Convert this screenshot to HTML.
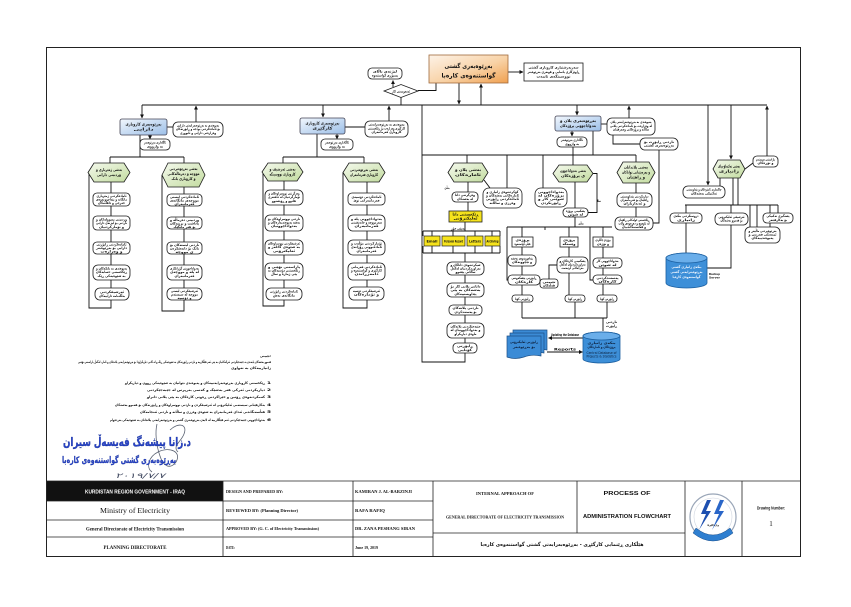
<!DOCTYPE html>
<html><head><meta charset="utf-8">
<style>
html,body{margin:0;padding:0;background:#fff;}
svg{display:block}
.n{fill:#fff;stroke:#1a1a1a;stroke-width:.8}
.r{fill:#fff;stroke:#1a1a1a;stroke-width:.8}
.l{stroke:#111;stroke-width:.9;fill:none}
.k{font-family:"DejaVu Sans",sans-serif;font-weight:bold;font-size:3.5px;fill:#111;text-anchor:middle}
.h{font-family:"DejaVu Sans",sans-serif;font-weight:bold;font-size:3.9px;fill:#111;text-anchor:middle}
.s{font-family:"Liberation Serif",serif;font-weight:bold;fill:#111}
.a{font-family:"Liberation Sans",sans-serif;fill:#111}
</style></head><body>
<svg width="851" height="607" viewBox="0 0 851 607" xmlns="http://www.w3.org/2000/svg">
<defs>
<linearGradient id="go" x1="0" y1="0" x2="1" y2="1"><stop offset="0" stop-color="#fdf3e8"/><stop offset=".55" stop-color="#f8d2a6"/><stop offset="1" stop-color="#f0a050"/></linearGradient>
<linearGradient id="gb" x1="0" y1="0" x2="1" y2="1"><stop offset="0" stop-color="#f2f7fd"/><stop offset="1" stop-color="#9cbfe8"/></linearGradient>
<linearGradient id="gg" x1="0" y1="0" x2="1" y2="1"><stop offset="0" stop-color="#f4f9ec"/><stop offset="1" stop-color="#c3dca0"/></linearGradient>
<marker id="m" markerWidth="4" markerHeight="4" refX="3.6" refY="2" orient="auto" markerUnits="userSpaceOnUse"><path d="M0,0 L4,2 L0,4z" fill="#111"/></marker>
</defs>
<rect width="851" height="607" fill="#fff"/>
<rect x="46.5" y="47.5" width="754" height="509" fill="none" stroke="#222" stroke-width="1"/>

<!-- connectors -->
<g class="l">
<path d="M393,87 V80.5" marker-end="url(#m)"/>
<path d="M418,90.5 H436 V83"/>
<path d="M401,97.5 V105"/>
<path d="M459,83 V104" marker-end="url(#m)"/>
<path d="M481,105 V84" marker-end="url(#m)"/>
<path d="M508,72 H523" marker-end="url(#m)"/>
<path d="M142,105 H767"/>
<path d="M142,105 V118" marker-end="url(#m)"/>
<path d="M167,127 H173"/>
<path d="M196,122 V106" marker-end="url(#m)"/>
<path d="M150,135 V139" marker-end="url(#m)"/>
<path d="M140,135 V157 M110,157 H184 M110,157 V163 M184,157 V163"/>
<path d="M111,182 V193 M111,206 V216 M111,230 V242 M111,254 V265 M111,280 V288"/>
<path d="M89,172.5 V308 H111 V300"/>
<path d="M184,187 V194 M184,206 V217 M184,229 V242 M184,254 V265 M184,280 V288"/>
<path d="M162,175 V311 H184 V300"/>
<path d="M323,105 V117" marker-end="url(#m)"/>
<path d="M345,127 H365"/>
<path d="M389,121 V106" marker-end="url(#m)"/>
<path d="M337,134 V139" marker-end="url(#m)"/>
<path d="M317,134 V157 M283,157 H364 M283,157 V163 M364,157 V163"/>
<path d="M284,181 V190 M284,205 V215 M284,231 V240 M284,255 V263 M284,280 V288"/>
<path d="M263,172 V306 H284 V300"/>
<path d="M367,182 V193 M367,205 V215 M367,231 V240 M367,255 V263 M367,280 V287"/>
<path d="M343,172.5 V308 H367 V300"/>
<path d="M422,105 V362 H465 V353"/>
<path d="M577,105 V115" marker-end="url(#m)"/>
<path d="M601,124 H607"/>
<path d="M629,118 V106" marker-end="url(#m)"/>
<path d="M572,131 V136" marker-end="url(#m)"/>
<path d="M593,131 V155 M422,155 H636 M467,155 V163 M507,155 V188 M543,155 V188 M573,147 V165 M636,155 V162"/>
<path d="M613,135 V144 H640"/>
<path d="M659,150 V223 H653"/>
<path d="M484,180 L490,188"/>
<path d="M468,182 V192 M468,202 V211 M465,222 V231"/>
<path d="M423,231 H500 M423,231 V236 M432,231 V236 M453,231 V236 M475,231 V236 M492,231 V236 M500,231 V236"/>
<path d="M423,246 V253 M432,246 V253 M453,246 V253 M475,246 V253 M492,246 V253 M500,246 V253 M423,253 H500 M465,253 V262"/>
<path d="M465,275 V283 M465,297 V305 M465,315 V323 M465,338 V343"/>
<path d="M575,182 V208 M593,173.5 H597 V212.5 H588 M575,217 V227 M507,227 H612 M522,227 V237 M569,227 V237 M603,227 V237"/>
<path d="M522,247 V255 M522,266 V275 M522,285 V295 M569,247 V257 M569,273 V295 M603,247 V258 M603,268 V275 M603,284 V295"/>
<path d="M557,265 H549 V279 M507,227 V280 H508 M590,227 V280 H593 M545,227 V230"/>
<path d="M522,302 V318 M575,302 V318 M607,302 V318 M522,318 H607 M603,318 V331"/>
<path d="M583,338 H548.5" marker-end="url(#m)"/>
<path d="M547,352 H582.5" marker-end="url(#m)"/>
<path d="M636,183 V193 M636,207 V217"/>
<path d="M731,105 V159" marker-end="url(#m)"/>
<path d="M767,156 V106" marker-end="url(#m)"/>
<path d="M745,169 L753,163"/>
<path d="M708,105 V185" marker-end="url(#m)"/>
<path d="M720,178 V186 M733,178 V205 M738,178 V205"/>
<path d="M685,205 H778 M686,205 V213 M731,205 V213 M750,205 V227 M757,205 V227 M770,205 V227 M778,205 V213"/>
<path d="M686,223 V253"/>
<path d="M731,225 V268 H707"/>
</g>

<!-- top -->
<rect x="429" y="55" width="79" height="28" fill="url(#go)" stroke="#a06a3c" stroke-width=".8"/>
<text x="468.5" y="68" class="h" style="font-size:6px" textLength="48" lengthAdjust="spacingAndGlyphs">بەڕێوەبەری گشتی</text>
<text x="468.5" y="77.5" class="h" style="font-size:6px" textLength="54" lengthAdjust="spacingAndGlyphs">گواستنەوەی کارەبا</text>
<rect x="524" y="63" width="59" height="18" class="r"/>
<text x="553.5" y="68.5" class="k" textLength="50" lengthAdjust="spacingAndGlyphs">سەرپەرشتیاری کاروباری گشتی</text>
<text x="553.5" y="73" class="k" textLength="52" lengthAdjust="spacingAndGlyphs">ڕاوێژکاری یاسایی و هونەری بەڕێوەبەر</text>
<text x="553.5" y="77.5" class="k" textLength="34" lengthAdjust="spacingAndGlyphs">نووسینگەی تایبەت</text>
<rect x="368" y="68" width="34" height="11" rx="4" class="n"/>
<text x="385" y="72.6" class="k" textLength="24" lengthAdjust="spacingAndGlyphs">لیژنەی باڵای</text>
<text x="385" y="76.6" class="k" textLength="26" lengthAdjust="spacingAndGlyphs">پسپۆڕی گواستنەوە</text>
<polygon points="384,91 401,84.5 418,91 401,97.5" fill="#fff" stroke="#1a1a1a" stroke-width=".8"/>
<text x="401" y="92.3" class="k" textLength="18" lengthAdjust="spacingAndGlyphs">ئەنجومەنی کار</text>

<!-- Branch A -->
<rect x="120" y="119" width="47" height="16" rx="2" fill="url(#gb)" stroke="#445" stroke-width=".8"/>
<text x="143.5" y="125.5" class="h" textLength="36" lengthAdjust="spacingAndGlyphs">بەڕێوەبەری کاروباری</text>
<text x="143.5" y="130.5" class="h" textLength="20" lengthAdjust="spacingAndGlyphs">دارایی</text>
<rect x="173" y="122" width="50" height="15" rx="5" class="n"/>
<text x="198" y="126.5" class="k" textLength="42" lengthAdjust="spacingAndGlyphs">پەیوەندی بە بەڕێوەبەرایەتی دارایی</text>
<text x="198" y="130.2" class="k" textLength="44" lengthAdjust="spacingAndGlyphs">بۆ ئامادەکردنی بودجە و ڕاپۆرتەکان</text>
<text x="198" y="134" class="k" textLength="36" lengthAdjust="spacingAndGlyphs">وەزارەتی دارایی و ئابووری</text>
<rect x="140" y="139" width="30" height="11" rx="4" class="n"/>
<text x="155" y="143.5" class="k" textLength="22" lengthAdjust="spacingAndGlyphs">ئاگاداری بەڕێوەبەر</text>
<text x="155" y="147.3" class="k" textLength="16" lengthAdjust="spacingAndGlyphs">بە واژووی</text>
<polygon points="88,172.5 94,163 124,163 130,172.5 124,182 94,182" fill="url(#gg)" stroke="#1a1a1a" stroke-width=".8"/>
<text x="109" y="171" class="h" textLength="26" lengthAdjust="spacingAndGlyphs">بەشی ژمێریاری و</text>
<text x="109" y="176" class="h" textLength="24" lengthAdjust="spacingAndGlyphs">وردبینی دارایی</text>
<polygon points="162,175 168,163 199,163 205,175 199,187 168,187" fill="url(#gg)" stroke="#1a1a1a" stroke-width=".8"/>
<text x="183.5" y="170" class="h" textLength="28" lengthAdjust="spacingAndGlyphs">بەشی بەڕێوەبردنی</text>
<text x="183.5" y="175" class="h" textLength="32" lengthAdjust="spacingAndGlyphs">مووچە و دەرماڵەکانی</text>
<text x="183.5" y="180" class="h" textLength="24" lengthAdjust="spacingAndGlyphs">و کاروباری بانک</text>
<rect x="93" y="193" width="37" height="13" rx="4" class="n"/>
<text x="111.5" y="197.2" class="k" textLength="30" lengthAdjust="spacingAndGlyphs">ئامادەکردنی ژمێریاری</text>
<text x="111.5" y="200.6" class="k" textLength="31" lengthAdjust="spacingAndGlyphs">مانگانە و پێداچوونەوەی</text>
<text x="111.5" y="204" class="k" textLength="27" lengthAdjust="spacingAndGlyphs">خەرجی و داهاتەکان</text>
<rect x="93" y="216" width="37" height="14" rx="4" class="n"/>
<text x="111.5" y="220.6" class="k" textLength="31" lengthAdjust="spacingAndGlyphs">وردبینی پسوولەکان و</text>
<text x="111.5" y="224.2" class="k" textLength="31" lengthAdjust="spacingAndGlyphs">ناردنی بۆ لیژنەی دارایی</text>
<text x="111.5" y="227.8" class="k" textLength="25" lengthAdjust="spacingAndGlyphs">و تۆمارکردنیان</text>
<rect x="93" y="242" width="37" height="12" rx="4" class="n"/>
<text x="111.5" y="245.6" class="k" textLength="30" lengthAdjust="spacingAndGlyphs">ئامادەکردنی ڕاپۆرتی</text>
<text x="111.5" y="249" class="k" textLength="31" lengthAdjust="spacingAndGlyphs">دارایی بۆ بەڕێوەبەر</text>
<text x="111.5" y="252.4" class="k" textLength="22" lengthAdjust="spacingAndGlyphs">و وەزارەت</text>
<rect x="93" y="265" width="37" height="15" rx="5" class="n"/>
<text x="111.5" y="269.6" class="k" textLength="31" lengthAdjust="spacingAndGlyphs">پەیوەندی بە بانکەکان و</text>
<text x="111.5" y="273.2" class="k" textLength="31" lengthAdjust="spacingAndGlyphs">ڕێکخستنی حسابەکان</text>
<text x="111.5" y="276.8" class="k" textLength="28" lengthAdjust="spacingAndGlyphs">بە شێوەیەکی ڕێک</text>
<rect x="95" y="288" width="34" height="12" rx="5" class="n"/>
<text x="112" y="293" class="k" textLength="24" lengthAdjust="spacingAndGlyphs">ئەرشیفکردنی</text>
<text x="112" y="297" class="k" textLength="26" lengthAdjust="spacingAndGlyphs">بەڵگەنامە داراییەکان</text>
<rect x="167" y="194" width="35" height="12" rx="4" class="n"/>
<text x="184.5" y="198" class="k" textLength="29" lengthAdjust="spacingAndGlyphs">ئامادەکردنی لیستی</text>
<text x="184.5" y="201.4" class="k" textLength="29" lengthAdjust="spacingAndGlyphs">مووچەی مانگانەی</text>
<text x="184.5" y="204.8" class="k" textLength="20" lengthAdjust="spacingAndGlyphs">فەرمانبەران</text>
<rect x="167" y="217" width="35" height="12" rx="4" class="n"/>
<text x="184.5" y="221" class="k" textLength="29" lengthAdjust="spacingAndGlyphs">وردبینی دەرماڵە و</text>
<text x="184.5" y="224.4" class="k" textLength="29" lengthAdjust="spacingAndGlyphs">پاداشت و بڕینەکان</text>
<text x="184.5" y="227.8" class="k" textLength="22" lengthAdjust="spacingAndGlyphs">بۆ هەر مانگێک</text>
<rect x="167" y="242" width="35" height="12" rx="4" class="n"/>
<text x="184.5" y="246" class="k" textLength="29" lengthAdjust="spacingAndGlyphs">ناردنی لیستەکان بۆ</text>
<text x="184.5" y="249.4" class="k" textLength="29" lengthAdjust="spacingAndGlyphs">بانک بۆ دابەشکردن</text>
<text x="184.5" y="252.8" class="k" textLength="18" lengthAdjust="spacingAndGlyphs">ی مووچە</text>
<rect x="167" y="265" width="35" height="15" rx="5" class="n"/>
<text x="184.5" y="269.6" class="k" textLength="29" lengthAdjust="spacingAndGlyphs">بەدواداچوونی گۆڕانکاری</text>
<text x="184.5" y="273.2" class="k" textLength="29" lengthAdjust="spacingAndGlyphs">لە پلە و مووچەی</text>
<text x="184.5" y="276.8" class="k" textLength="20" lengthAdjust="spacingAndGlyphs">فەرمانبەران</text>
<rect x="167" y="288" width="35" height="12" rx="5" class="n"/>
<text x="184.5" y="292" class="k" textLength="27" lengthAdjust="spacingAndGlyphs">ئەرشیفکردنی لیستی</text>
<text x="184.5" y="295.4" class="k" textLength="27" lengthAdjust="spacingAndGlyphs">مووچە لە سیستەم</text>
<text x="184.5" y="298.8" class="k" textLength="14" lengthAdjust="spacingAndGlyphs">و دۆسیە</text>

<!-- Branch B -->
<rect x="300" y="118" width="45" height="16" rx="2" fill="url(#gb)" stroke="#445" stroke-width=".8"/>
<text x="322.5" y="124.5" class="h" textLength="34" lengthAdjust="spacingAndGlyphs">بەڕێوەبەری کاروباری</text>
<text x="322.5" y="129.5" class="h" textLength="20" lengthAdjust="spacingAndGlyphs">کارگێڕی</text>
<rect x="365" y="121" width="43" height="16" rx="5" class="n"/>
<text x="386.5" y="125.6" class="k" textLength="36" lengthAdjust="spacingAndGlyphs">پەیوەندی بە بەڕێوەبەرایەتی</text>
<text x="386.5" y="129.4" class="k" textLength="37" lengthAdjust="spacingAndGlyphs">کارگێڕی وەزارەت بۆ ڕێکخستنی</text>
<text x="386.5" y="133.2" class="k" textLength="30" lengthAdjust="spacingAndGlyphs">کاروباری فەرمانبەران</text>
<rect x="321" y="139" width="32" height="11" rx="4" class="n"/>
<text x="337" y="143.5" class="k" textLength="24" lengthAdjust="spacingAndGlyphs">ئاگاداری بەڕێوەبەر</text>
<text x="337" y="147.3" class="k" textLength="16" lengthAdjust="spacingAndGlyphs">بە واژووی</text>
<polygon points="262,172 268,163 297,163 303,172 297,181 268,181" fill="url(#gg)" stroke="#1a1a1a" stroke-width=".8"/>
<text x="282.5" y="170.5" class="h" textLength="26" lengthAdjust="spacingAndGlyphs">بەشی ئەرشیف و</text>
<text x="282.5" y="175.5" class="h" textLength="26" lengthAdjust="spacingAndGlyphs">کاروباری نووسینگە</text>
<polygon points="343,172.5 349,163 379,163 385,172.5 379,182 349,182" fill="url(#gg)" stroke="#1a1a1a" stroke-width=".8"/>
<text x="364" y="171" class="h" textLength="28" lengthAdjust="spacingAndGlyphs">بەشی بەڕێوەبردنی</text>
<text x="364" y="176" class="h" textLength="28" lengthAdjust="spacingAndGlyphs">کاروباری فەرمانبەران</text>
<rect x="265" y="190" width="38" height="15" rx="5" class="n"/>
<text x="284" y="194.6" class="k" textLength="31" lengthAdjust="spacingAndGlyphs">وەرگرتنی نووسراوەکان و</text>
<text x="284" y="198.2" class="k" textLength="32" lengthAdjust="spacingAndGlyphs">تۆمارکردنیان لە دەفتەری</text>
<text x="284" y="201.8" class="k" textLength="24" lengthAdjust="spacingAndGlyphs">هاتوو و ڕۆیشتوو</text>
<rect x="265" y="215" width="38" height="16" rx="5" class="n"/>
<text x="284" y="220" class="k" textLength="32" lengthAdjust="spacingAndGlyphs">ناردنی نووسراوەکان بۆ</text>
<text x="284" y="223.6" class="k" textLength="32" lengthAdjust="spacingAndGlyphs">بەشە پەیوەندیدارەکان و</text>
<text x="284" y="227.2" class="k" textLength="26" lengthAdjust="spacingAndGlyphs">بەدواداچوونیان</text>
<rect x="265" y="240" width="38" height="15" rx="5" class="n"/>
<text x="284" y="244.6" class="k" textLength="32" lengthAdjust="spacingAndGlyphs">ئەرشیفکردنی نووسراوەکان</text>
<text x="284" y="248.2" class="k" textLength="32" lengthAdjust="spacingAndGlyphs">بە شێوەی کاغەز و</text>
<text x="284" y="251.8" class="k" textLength="22" lengthAdjust="spacingAndGlyphs">ئەلیکترۆنی</text>
<rect x="265" y="263" width="38" height="17" rx="5" class="n"/>
<text x="284" y="268" class="k" textLength="32" lengthAdjust="spacingAndGlyphs">پاراستنی نهێنی و</text>
<text x="284" y="271.6" class="k" textLength="32" lengthAdjust="spacingAndGlyphs">ڕێکخستنی دۆسیەکان بە</text>
<text x="284" y="275.2" class="k" textLength="26" lengthAdjust="spacingAndGlyphs">پێی ژمارە و ساڵ</text>
<rect x="266" y="288" width="36" height="12" rx="5" class="n"/>
<text x="284" y="292.6" class="k" textLength="28" lengthAdjust="spacingAndGlyphs">ئامادەکردنی ڕاپۆرتی</text>
<text x="284" y="296.4" class="k" textLength="22" lengthAdjust="spacingAndGlyphs">مانگانەی بەش</text>
<rect x="348" y="193" width="37" height="12" rx="4" class="n"/>
<text x="366.5" y="197.8" class="k" textLength="30" lengthAdjust="spacingAndGlyphs">ئامادەکردنی دۆسیەی</text>
<text x="366.5" y="201.6" class="k" textLength="26" lengthAdjust="spacingAndGlyphs">فەرمانبەرانی نوێ</text>
<rect x="348" y="215" width="37" height="16" rx="5" class="n"/>
<text x="366.5" y="220" class="k" textLength="31" lengthAdjust="spacingAndGlyphs">بەدواداچوونی پلە و</text>
<text x="366.5" y="223.6" class="k" textLength="31" lengthAdjust="spacingAndGlyphs">سەرمووچە و خانەنشینی</text>
<text x="366.5" y="227.2" class="k" textLength="24" lengthAdjust="spacingAndGlyphs">فەرمانبەران</text>
<rect x="348" y="240" width="37" height="15" rx="5" class="n"/>
<text x="366.5" y="244.6" class="k" textLength="31" lengthAdjust="spacingAndGlyphs">تۆمارکردنی مۆڵەت و</text>
<text x="366.5" y="248.2" class="k" textLength="31" lengthAdjust="spacingAndGlyphs">ئامادەبوونی ڕۆژانەی</text>
<text x="366.5" y="251.8" class="k" textLength="20" lengthAdjust="spacingAndGlyphs">فەرمانبەران</text>
<rect x="348" y="263" width="37" height="17" rx="5" class="n"/>
<text x="366.5" y="268" class="k" textLength="31" lengthAdjust="spacingAndGlyphs">ئامادەکردنی فەرمانی</text>
<text x="366.5" y="271.6" class="k" textLength="31" lengthAdjust="spacingAndGlyphs">کارگێڕی و گواستنەوە و</text>
<text x="366.5" y="275.2" class="k" textLength="24" lengthAdjust="spacingAndGlyphs">دامەزراندن</text>
<rect x="349" y="287" width="35" height="13" rx="5" class="n"/>
<text x="366.5" y="291.8" class="k" textLength="27" lengthAdjust="spacingAndGlyphs">ئەرشیفکردنی دۆسیە</text>
<text x="366.5" y="295.6" class="k" textLength="25" lengthAdjust="spacingAndGlyphs">و تۆمارەکان</text>

<!-- Middle director -->
<rect x="555" y="116" width="46" height="15" rx="2" fill="url(#gb)" stroke="#445" stroke-width=".8"/>
<text x="578" y="122" class="h" textLength="36" lengthAdjust="spacingAndGlyphs">بەڕێوەبەری پلان و</text>
<text x="578" y="127" class="h" textLength="36" lengthAdjust="spacingAndGlyphs">بەدواداچوونی پرۆژەکان</text>
<rect x="607" y="118" width="48" height="17" rx="5" class="n"/>
<text x="631" y="123" class="k" textLength="41" lengthAdjust="spacingAndGlyphs">پەیوەندی بە بەڕێوەبەرایەتی پلان</text>
<text x="631" y="126.8" class="k" textLength="42" lengthAdjust="spacingAndGlyphs">لە وەزارەت بۆ ئامادەکردنی پلانی</text>
<text x="631" y="130.6" class="k" textLength="36" lengthAdjust="spacingAndGlyphs">ساڵانە و پرۆژەکانی وەبەرهێنان</text>
<rect x="557" y="137" width="30" height="10" rx="4" class="n"/>
<text x="572" y="141.2" class="k" textLength="22" lengthAdjust="spacingAndGlyphs">ئاگاداری بەڕێوەبەر</text>
<text x="572" y="144.8" class="k" textLength="14" lengthAdjust="spacingAndGlyphs">بە واژووی</text>
<rect x="640" y="138" width="38" height="12" rx="5" class="n"/>
<text x="659" y="142.8" class="k" textLength="30" lengthAdjust="spacingAndGlyphs">ناردنی ڕاپۆرت بۆ</text>
<text x="659" y="146.6" class="k" textLength="30" lengthAdjust="spacingAndGlyphs">بەڕێوەبەری گشتی</text>

<polygon points="448,172.5 454,163 482,163 488,172.5 482,182 454,182" fill="url(#gg)" stroke="#1a1a1a" stroke-width=".8"/>
<text x="468" y="171" class="h" textLength="26" lengthAdjust="spacingAndGlyphs">بەشی پلان و</text>
<text x="468" y="176" class="h" textLength="26" lengthAdjust="spacingAndGlyphs">ئامارەکان</text>
<rect x="483" y="188" width="39" height="20" rx="6" class="n"/>
<text x="502.5" y="193" class="k" textLength="32" lengthAdjust="spacingAndGlyphs">کۆکردنەوەی زانیاری و</text>
<text x="502.5" y="196.6" class="k" textLength="33" lengthAdjust="spacingAndGlyphs">ئامارەکانی بەشەکان و</text>
<text x="502.5" y="200.2" class="k" textLength="33" lengthAdjust="spacingAndGlyphs">ئامادەکردنی ڕاپۆرتی</text>
<text x="502.5" y="203.8" class="k" textLength="26" lengthAdjust="spacingAndGlyphs">وەرزی و ساڵانە</text>
<rect x="452" y="192" width="26" height="10" rx="4" class="n"/>
<text x="465" y="196.2" class="k" textLength="20" lengthAdjust="spacingAndGlyphs">وەرگرتنی داتا</text>
<text x="465" y="199.8" class="k" textLength="16" lengthAdjust="spacingAndGlyphs">لە بەشەکان</text>
<text x="447" y="189" class="k" textLength="5" lengthAdjust="spacingAndGlyphs">بەڵێ</text>
<rect x="449" y="211" width="33" height="11" fill="#f6e31c" stroke="#222" stroke-width=".8"/>
<text x="465.5" y="215.7" class="h" textLength="26" lengthAdjust="spacingAndGlyphs">ڕێکخستنی داتا</text>
<text x="465.5" y="219.7" class="h" textLength="24" lengthAdjust="spacingAndGlyphs">ئەلیکترۆنی</text>
<text x="458" y="229.5" class="k" textLength="14" lengthAdjust="spacingAndGlyphs">بەپێی جۆر</text>
<rect x="424" y="236" width="16" height="10" fill="#f6e31c" stroke="#222" stroke-width=".7"/>
<text x="432" y="242.3" class="h" style="font-size:3.4px" textLength="11" lengthAdjust="spacingAndGlyphs">Email</text>
<rect x="442" y="236" width="23" height="10" fill="#f6e31c" stroke="#222" stroke-width=".7"/>
<text x="453.5" y="242.3" class="h" style="font-size:3.4px" textLength="19" lengthAdjust="spacingAndGlyphs">Personal Record</text>
<rect x="467" y="236" width="16" height="10" fill="#f6e31c" stroke="#222" stroke-width=".7"/>
<text x="475" y="242.3" class="h" style="font-size:3.4px" textLength="12" lengthAdjust="spacingAndGlyphs">Letters</text>
<rect x="485" y="236" width="15" height="10" fill="#f6e31c" stroke="#222" stroke-width=".7"/>
<text x="492.5" y="242.3" class="h" style="font-size:3.4px" textLength="12" lengthAdjust="spacingAndGlyphs">Archiving</text>
<rect x="447" y="262" width="37" height="13" rx="5" class="n"/>
<text x="465.5" y="266.2" class="k" textLength="30" lengthAdjust="spacingAndGlyphs">شیکردنەوەی داتاکان و</text>
<text x="465.5" y="269.6" class="k" textLength="30" lengthAdjust="spacingAndGlyphs">بەراوردکردنیان لەگەڵ</text>
<text x="465.5" y="273" class="k" textLength="20" lengthAdjust="spacingAndGlyphs">ساڵانی پێشوو</text>
<rect x="447" y="283" width="37" height="14" rx="5" class="n"/>
<text x="465.5" y="287.6" class="k" textLength="30" lengthAdjust="spacingAndGlyphs">دانانی پلانی کار بۆ</text>
<text x="465.5" y="291.2" class="k" textLength="30" lengthAdjust="spacingAndGlyphs">بەشەکان بە پێی</text>
<text x="465.5" y="294.8" class="k" textLength="22" lengthAdjust="spacingAndGlyphs">پێداویستییەکان</text>
<rect x="449" y="305" width="33" height="10" rx="4" class="n"/>
<text x="465.5" y="309.2" class="k" textLength="26" lengthAdjust="spacingAndGlyphs">ناردنی پلانەکان</text>
<text x="465.5" y="312.8" class="k" textLength="22" lengthAdjust="spacingAndGlyphs">بۆ پەسەندکردن</text>
<rect x="447" y="323" width="37" height="15" rx="5" class="n"/>
<text x="465.5" y="327.6" class="k" textLength="30" lengthAdjust="spacingAndGlyphs">جێبەجێکردنی پلانەکان</text>
<text x="465.5" y="331.2" class="k" textLength="30" lengthAdjust="spacingAndGlyphs">و بەدواداچوونیان لە</text>
<text x="465.5" y="334.8" class="k" textLength="22" lengthAdjust="spacingAndGlyphs">ماوەی دیاریکراو</text>
<rect x="453" y="343" width="24" height="10" rx="4" class="n"/>
<text x="465" y="347.2" class="k" textLength="16" lengthAdjust="spacingAndGlyphs">ڕاپۆرتی</text>
<text x="465" y="350.8" class="k" textLength="14" lengthAdjust="spacingAndGlyphs">کۆتایی</text>

<rect x="535" y="188" width="32" height="19" rx="6" class="n"/>
<text x="551" y="193" class="k" textLength="26" lengthAdjust="spacingAndGlyphs">بەدواداچوونی</text>
<text x="551" y="196.6" class="k" textLength="26" lengthAdjust="spacingAndGlyphs">پرۆژەکان لە</text>
<text x="551" y="200.2" class="k" textLength="26" lengthAdjust="spacingAndGlyphs">شوێنی کار و</text>
<text x="551" y="203.8" class="k" textLength="20" lengthAdjust="spacingAndGlyphs">ڕاپۆرتکردن</text>
<polygon points="553,173.5 559,165 587,165 593,173.5 587,182 559,182" fill="url(#gg)" stroke="#1a1a1a" stroke-width=".8"/>
<text x="573" y="172" class="h" textLength="26" lengthAdjust="spacingAndGlyphs">بەشی بەدواداچوون</text>
<text x="573" y="177" class="h" textLength="24" lengthAdjust="spacingAndGlyphs">ی پرۆژەکان</text>
<text x="599" y="202" class="k" textLength="4" lengthAdjust="spacingAndGlyphs">نا</text>
<rect x="563" y="208" width="25" height="9" rx="4" class="n"/>
<text x="575.5" y="212" class="k" textLength="19" lengthAdjust="spacingAndGlyphs">پشکنینی پرۆژە</text>
<text x="575.5" y="215.4" class="k" textLength="15" lengthAdjust="spacingAndGlyphs">لە شوێن</text>
<text x="581" y="224.5" class="k" textLength="5" lengthAdjust="spacingAndGlyphs">بەڵێ</text>
<rect x="512" y="237" width="21" height="10" class="r"/>
<text x="522.5" y="241.2" class="k" textLength="14" lengthAdjust="spacingAndGlyphs">پرۆژەی</text>
<text x="522.5" y="244.8" class="k" textLength="16" lengthAdjust="spacingAndGlyphs">هێڵی گواستنەوە</text>
<rect x="560" y="237" width="18" height="10" class="r"/>
<text x="569" y="241.2" class="k" textLength="12" lengthAdjust="spacingAndGlyphs">پرۆژەی</text>
<text x="569" y="244.8" class="k" textLength="13" lengthAdjust="spacingAndGlyphs">وێستگە</text>
<rect x="593" y="237" width="20" height="10" class="r"/>
<text x="603" y="241.2" class="k" textLength="15" lengthAdjust="spacingAndGlyphs">پرۆژەی چاککردن</text>
<text x="603" y="244.8" class="k" textLength="12" lengthAdjust="spacingAndGlyphs">و نۆژەن</text>
<rect x="508" y="255" width="28" height="11" rx="4" class="n"/>
<text x="522" y="259.4" class="k" textLength="22" lengthAdjust="spacingAndGlyphs">پێداچوونەوەی نەخشە</text>
<text x="522" y="263" class="k" textLength="20" lengthAdjust="spacingAndGlyphs">و تێچوونەکان</text>
<rect x="508" y="275" width="32" height="10" rx="4" class="n"/>
<text x="524" y="279.2" class="k" textLength="25" lengthAdjust="spacingAndGlyphs">ڕاپۆرتی پێشکەوتنی</text>
<text x="524" y="282.8" class="k" textLength="18" lengthAdjust="spacingAndGlyphs">کارەکان</text>
<rect x="512" y="295" width="21" height="7" rx="3" class="n"/>
<text x="522.5" y="299.8" class="k" textLength="15" lengthAdjust="spacingAndGlyphs">ڕاپۆرتی کۆتا</text>
<rect x="557" y="257" width="31" height="16" rx="5" class="n"/>
<text x="572.5" y="261.8" class="k" textLength="26" lengthAdjust="spacingAndGlyphs">پشکنینی کارەکان و</text>
<text x="572.5" y="265.4" class="k" textLength="26" lengthAdjust="spacingAndGlyphs">بەراوردکردنیان لەگەڵ</text>
<text x="572.5" y="269" class="k" textLength="22" lengthAdjust="spacingAndGlyphs">مەرجەکانی گرێبەست</text>
<rect x="540" y="279" width="18" height="9" rx="3" class="n"/>
<text x="549" y="283" class="k" textLength="13" lengthAdjust="spacingAndGlyphs">تێبینی</text>
<text x="549" y="286.4" class="k" textLength="12" lengthAdjust="spacingAndGlyphs">هەڵەکان</text>
<rect x="565" y="295" width="20" height="7" rx="3" class="n"/>
<text x="575" y="299.8" class="k" textLength="14" lengthAdjust="spacingAndGlyphs">ڕاپۆرتی کۆتا</text>
<rect x="593" y="258" width="29" height="10" rx="4" class="n"/>
<text x="607.5" y="262.2" class="k" textLength="22" lengthAdjust="spacingAndGlyphs">بەدواداچوونی کار</text>
<text x="607.5" y="265.8" class="k" textLength="18" lengthAdjust="spacingAndGlyphs">لە شوێن</text>
<rect x="593" y="275" width="29" height="9" rx="4" class="n"/>
<text x="607.5" y="279" class="k" textLength="22" lengthAdjust="spacingAndGlyphs">پەسەندکردنی</text>
<text x="607.5" y="282.4" class="k" textLength="18" lengthAdjust="spacingAndGlyphs">کارەکان</text>
<rect x="597" y="295" width="20" height="7" rx="3" class="n"/>
<text x="607" y="299.8" class="k" textLength="14" lengthAdjust="spacingAndGlyphs">ڕاپۆرتی کۆتا</text>
<text x="606" y="323" class="k" style="text-anchor:start" textLength="11" lengthAdjust="spacingAndGlyphs">ناردنی</text>
<text x="606" y="327" class="k" style="text-anchor:start" textLength="11" lengthAdjust="spacingAndGlyphs">ڕاپۆرت</text>
<text x="565" y="336" class="k" textLength="28" lengthAdjust="spacingAndGlyphs">Updating the Database</text>
<text x="565" y="350.5" class="k" textLength="22" lengthAdjust="spacingAndGlyphs">Reports</text>
<g stroke="#1d4f85" stroke-width=".7" fill="#3b8bd6">
<path d="M513,330 H547 V350 Q538,348 530,351 Q521,354 513,351 Z"/>
<path d="M510,333 H544 V353 Q535,351 527,354 Q518,357 510,354 Z"/>
<path d="M507,336 H541 V356 Q532,354 524,357 Q515,360 507,357 Z"/>
</g>
<text x="524" y="343" class="k" style="fill:#0c1e3a" textLength="28" lengthAdjust="spacingAndGlyphs">ڕاپۆرتی ئەلیکترۆنی</text>
<text x="524" y="348" class="k" style="fill:#0c1e3a" textLength="22" lengthAdjust="spacingAndGlyphs">بۆ بەڕێوەبەر</text>
<path d="M583,336 A18.5,4 0 0 1 620,336 V359 A18.5,4 0 0 1 583,359 Z" fill="#3d8fd8" stroke="#1b5fa0" stroke-width=".8"/>
<ellipse cx="601.5" cy="336" rx="18.5" ry="4" fill="#6aaeea" stroke="#1b5fa0" stroke-width=".8"/>
<text x="601.5" y="344" class="k" style="fill:#0c1e3a" textLength="28" lengthAdjust="spacingAndGlyphs">بنکەی زانیاری</text>
<text x="601.5" y="348" class="k" style="fill:#0c1e3a" textLength="28" lengthAdjust="spacingAndGlyphs">پرۆژەکان و ئامارەکان</text>
<text x="601.5" y="354" class="k" style="fill:#0c1e3a;font-weight:normal" textLength="30" lengthAdjust="spacingAndGlyphs">Central Database of</text>
<text x="601.5" y="357.5" class="k" style="fill:#0c1e3a;font-weight:normal" textLength="30" lengthAdjust="spacingAndGlyphs">Projects &amp; Statistics</text>

<polygon points="617,172.5 623,162 649,162 655,172.5 649,183 623,183" fill="url(#gg)" stroke="#1a1a1a" stroke-width=".8"/>
<text x="636" y="168.5" class="h" textLength="24" lengthAdjust="spacingAndGlyphs">بەشی پلاندانان</text>
<text x="636" y="173.5" class="h" textLength="28" lengthAdjust="spacingAndGlyphs">و پەرەپێدانی تواناکان</text>
<text x="636" y="178.5" class="h" textLength="18" lengthAdjust="spacingAndGlyphs">و ڕاهێنان</text>
<rect x="617" y="193" width="35" height="14" rx="5" class="n"/>
<text x="634.5" y="197.4" class="k" textLength="28" lengthAdjust="spacingAndGlyphs">دیاریکردنی پێداویستی</text>
<text x="634.5" y="201" class="k" textLength="28" lengthAdjust="spacingAndGlyphs">ڕاهێنان بۆ فەرمانبەران</text>
<text x="634.5" y="204.6" class="k" textLength="22" lengthAdjust="spacingAndGlyphs">و ئەندازیاران</text>
<rect x="615" y="217" width="38" height="13" rx="5" class="n"/>
<text x="634" y="221.2" class="k" textLength="31" lengthAdjust="spacingAndGlyphs">ڕێکخستنی خولەکانی ڕاهێنان</text>
<text x="634" y="224.6" class="k" textLength="31" lengthAdjust="spacingAndGlyphs">لە ناوەوە و دەرەوەی وڵات</text>
<text x="634" y="228" class="k" textLength="24" lengthAdjust="spacingAndGlyphs">و هەڵسەنگاندنیان</text>

<!-- Right section -->
<polygon points="713,169 718,160 740,160 745,169 740,178 718,178" fill="url(#gg)" stroke="#1a1a1a" stroke-width=".8"/>
<text x="729" y="167.5" class="h" textLength="22" lengthAdjust="spacingAndGlyphs">بەشی تەکنەلۆجیای</text>
<text x="729" y="172.5" class="h" textLength="20" lengthAdjust="spacingAndGlyphs">زانیاری</text>
<rect x="753" y="156" width="25" height="11" rx="4" class="n"/>
<text x="765.5" y="160.4" class="k" textLength="19" lengthAdjust="spacingAndGlyphs">پاراستنی سیستەم</text>
<text x="765.5" y="164" class="k" textLength="16" lengthAdjust="spacingAndGlyphs">و تۆڕەکان</text>
<rect x="683" y="186" width="42" height="12" rx="5" class="n"/>
<text x="704" y="190.6" class="k" textLength="35" lengthAdjust="spacingAndGlyphs">چاکسازی ئامێرەکان و پێداویستی</text>
<text x="704" y="194.4" class="k" textLength="26" lengthAdjust="spacingAndGlyphs">تەکنیکی بەشەکان</text>
<rect x="670" y="213" width="32" height="10" rx="4" class="n"/>
<text x="686" y="217.2" class="k" textLength="25" lengthAdjust="spacingAndGlyphs">دروستکردنی بنکەی</text>
<text x="686" y="220.8" class="k" textLength="18" lengthAdjust="spacingAndGlyphs">زانیاری</text>
<rect x="715" y="213" width="33" height="12" rx="5" class="n"/>
<text x="731.5" y="217.8" class="k" textLength="26" lengthAdjust="spacingAndGlyphs">ئەرشیفی ئەلیکترۆنی</text>
<text x="731.5" y="221.6" class="k" textLength="22" lengthAdjust="spacingAndGlyphs">بۆ هەموو بەشەکان</text>
<rect x="745" y="227" width="35" height="16" rx="5" class="n"/>
<text x="762.5" y="231.8" class="k" textLength="28" lengthAdjust="spacingAndGlyphs">بەڕێوەبردنی ماڵپەڕ و</text>
<text x="762.5" y="235.4" class="k" textLength="28" lengthAdjust="spacingAndGlyphs">ئیمەیڵی فەرمی و</text>
<text x="762.5" y="239" class="k" textLength="22" lengthAdjust="spacingAndGlyphs">پەیوەندییەکان</text>
<rect x="763" y="213" width="30" height="10" rx="4" class="n"/>
<text x="778" y="217.2" class="k" textLength="23" lengthAdjust="spacingAndGlyphs">پشتگیری تەکنیکی</text>
<text x="778" y="220.8" class="k" textLength="18" lengthAdjust="spacingAndGlyphs">بۆ بەکارهێنەر</text>
<path d="M666,258 A20.5,5 0 0 1 707,258 V283 A20.5,5 0 0 1 666,283 Z" fill="#3d8fd8" stroke="#1b5fa0" stroke-width=".8"/>
<ellipse cx="686.5" cy="258" rx="20.5" ry="5" fill="#6aaeea" stroke="#1b5fa0" stroke-width=".8"/>
<text x="686.5" y="268" class="k" style="fill:#f4f8ff" textLength="30" lengthAdjust="spacingAndGlyphs">بنکەی زانیاری گشتی</text>
<text x="686.5" y="273" class="k" style="fill:#f4f8ff" textLength="32" lengthAdjust="spacingAndGlyphs">بەڕێوەبەرایەتی گشتی</text>
<text x="686.5" y="278" class="k" style="fill:#f4f8ff" textLength="28" lengthAdjust="spacingAndGlyphs">گواستنەوەی کارەبا</text>
<text x="709" y="275" class="k" style="text-anchor:start;font-size:2.8px" textLength="11" lengthAdjust="spacingAndGlyphs">Backup</text>
<text x="709" y="278.5" class="k" style="text-anchor:start;font-size:2.8px" textLength="11" lengthAdjust="spacingAndGlyphs">Server</text>

<!-- Notes -->
<text x="271" y="357" class="k" style="text-anchor:end;font-size:3.6px" textLength="11" lengthAdjust="spacingAndGlyphs">تێبینی:</text>
<text x="271" y="363" class="k" style="text-anchor:end" textLength="193" lengthAdjust="spacingAndGlyphs">هەموو بەشەکان پابەندن بە جێبەجێکردنی ئەرکەکانیان بە پێی ئەم هێڵکارییە و ناردنی ڕاپۆرتەکان بە شێوەیەکی ڕێک و لە کاتی دیاریکراودا بۆ بەڕێوەبەرایەتی پلاندانان و ئامار، لەگەڵ پاراستنی نهێنی</text>
<text x="271" y="369" class="k" style="text-anchor:end" textLength="40" lengthAdjust="spacingAndGlyphs">زانیارییەکان بە تەواوی</text>
<text x="271" y="384" class="k" style="text-anchor:end" textLength="4" lengthAdjust="spacingAndGlyphs">1</text>
<text x="265" y="384" class="k" style="text-anchor:end" textLength="140" lengthAdjust="spacingAndGlyphs">ڕێکخستنی کاروباری بەڕێوەبەرایەتییەکان و پەیوەندی نێوانیان بە شێوەیەکی ڕوون و دیاریکراو</text>
<text x="271" y="391" class="k" style="text-anchor:end" textLength="4" lengthAdjust="spacingAndGlyphs">2</text>
<text x="265" y="391" class="k" style="text-anchor:end" textLength="118" lengthAdjust="spacingAndGlyphs">دیاریکردنی ئەرکی هەر بەشێک و کەسی بەرپرس لە جێبەجێکردنی</text>
<text x="271" y="398" class="k" style="text-anchor:end" textLength="4" lengthAdjust="spacingAndGlyphs">3</text>
<text x="265" y="398" class="k" style="text-anchor:end" textLength="118" lengthAdjust="spacingAndGlyphs">کەمکردنەوەی ڕۆتین و خێراکردنی ڕەوتی کارەکان بە پێی پلانی دانراو</text>
<text x="271" y="406" class="k" style="text-anchor:end" textLength="4" lengthAdjust="spacingAndGlyphs">4</text>
<text x="265" y="406" class="k" style="text-anchor:end" textLength="150" lengthAdjust="spacingAndGlyphs">بەکارهێنانی سیستەمی ئەلیکترۆنی لە ئەرشیفکردن و ناردنی نووسراوەکان و ڕاپۆرتەکان بۆ هەموو بەشەکان</text>
<text x="271" y="413" class="k" style="text-anchor:end" textLength="4" lengthAdjust="spacingAndGlyphs">5</text>
<text x="265" y="413" class="k" style="text-anchor:end" textLength="125" lengthAdjust="spacingAndGlyphs">هەڵسەنگاندنی ئەدای فەرمانبەران بە شێوەی وەرزی و ساڵانە و ناردنی ئەنجامەکان</text>
<text x="271" y="421" class="k" style="text-anchor:end" textLength="4" lengthAdjust="spacingAndGlyphs">6</text>
<text x="265" y="421" class="k" style="text-anchor:end" textLength="155" lengthAdjust="spacingAndGlyphs">بەدواداچوونی جێبەجێکردنی ئەم هێڵکارییە لە لایەن بەڕێوەبەری گشتی و بەڕێوەبەرایەتی پلاندانان بە شێوەیەکی بەردەوام</text>

<!-- Signature -->
<g fill="none" stroke="#5a6272" stroke-width=".8">
<path d="M157,424 C155,432 156,445 160,456 C163,466 170,470 176,462 C182,452 170,446 158,452 C148,457 146,468 152,472"/>
<path d="M170,430 C178,422 188,424 184,434 C181,442 172,446 178,452"/>
</g>
<text x="191" y="446" style="font-family:'DejaVu Sans',sans-serif;font-weight:bold;font-size:12px;fill:#2a44c8;text-anchor:end" stroke="#0e2a8a" stroke-width=".3" textLength="128" lengthAdjust="spacingAndGlyphs">د.زانا پیشەنگ فەیسەڵ سیران</text>
<text x="176" y="463" style="font-family:'DejaVu Sans',sans-serif;font-weight:bold;font-size:9px;fill:#2a44c8;text-anchor:end" stroke="#0e2a8a" stroke-width=".25" textLength="114" lengthAdjust="spacingAndGlyphs">بەڕێوەبەری گشتی گواستنەوەی کارەبا</text>
<text x="140" y="478" style="font-family:'DejaVu Sans',sans-serif;font-style:italic;font-size:7px;fill:#4a5268;text-anchor:middle" textLength="50" lengthAdjust="spacingAndGlyphs">٢٠١٩/٧/٧</text>

<!-- Title block -->
<rect x="47" y="481" width="176" height="20" fill="#111"/>
<g stroke="#222" stroke-width=".8" fill="none">
<path d="M47,481 H800 M47,501 H433 M47,520 H433 M47,537 H433 M433,533 H685"/>
<path d="M223,481 V556 M353,481 V556 M433,481 V556 M577,481 V533 M685,481 V556 M742,481 V556"/>
</g>
<text x="135" y="493.5" class="a" style="font-size:5.5px;font-weight:bold;fill:#fff;text-anchor:middle" textLength="100" lengthAdjust="spacingAndGlyphs">KURDISTAN REGION GOVERNMENT - IRAQ</text>
<text x="135" y="513" class="s" style="font-size:7.5px;text-anchor:middle;font-weight:normal" textLength="70" lengthAdjust="spacingAndGlyphs">Ministry of Electricity</text>
<text x="135" y="530.5" class="s" style="font-size:5px;text-anchor:middle" textLength="98" lengthAdjust="spacingAndGlyphs">General Directorate of Electricity Transmission</text>
<text x="135" y="549" class="s" style="font-size:5.5px;text-anchor:middle" textLength="63" lengthAdjust="spacingAndGlyphs">PLANNING DIRECTORATE</text>
<text x="226" y="493" class="s" style="font-size:4.3px" textLength="57" lengthAdjust="spacingAndGlyphs">DESIGN AND PREPARED BY:</text>
<text x="226" y="512" class="s" style="font-size:4.3px" textLength="72" lengthAdjust="spacingAndGlyphs">REVIEWED BY: (Planning Director)</text>
<text x="226" y="530" class="s" style="font-size:4.3px" textLength="93" lengthAdjust="spacingAndGlyphs">APPROVED BY: (G. C. of Electricity Transmission)</text>
<text x="226" y="549" class="s" style="font-size:4.3px" textLength="9" lengthAdjust="spacingAndGlyphs">DATE:</text>
<text x="355" y="493" class="s" style="font-size:4.5px" textLength="57" lengthAdjust="spacingAndGlyphs">KAMIRAN J. AL-BARZINJI</text>
<text x="355" y="512" class="s" style="font-size:4.5px" textLength="30" lengthAdjust="spacingAndGlyphs">RAFA RAFIQ</text>
<text x="355" y="530" class="s" style="font-size:4.5px" textLength="60" lengthAdjust="spacingAndGlyphs">DR. ZANA PESHANG SIRAN</text>
<text x="355" y="549" class="s" style="font-size:4.5px" textLength="23" lengthAdjust="spacingAndGlyphs">June 19, 2019</text>
<text x="505" y="495" class="s" style="font-size:4.3px;text-anchor:middle" textLength="58" lengthAdjust="spacingAndGlyphs">INTERNAL APPROACH OF</text>
<text x="505" y="518.5" class="s" style="font-size:4.3px;text-anchor:middle" textLength="118" lengthAdjust="spacingAndGlyphs">GENERAL DIRECTORATE OF ELECTRICITY TRANSMISSION</text>
<text x="627" y="495" class="a" style="font-size:5.5px;font-weight:bold;text-anchor:middle" textLength="47" lengthAdjust="spacingAndGlyphs">PROCESS      OF</text>
<text x="627" y="518" class="a" style="font-size:5.5px;font-weight:bold;text-anchor:middle" textLength="88" lengthAdjust="spacingAndGlyphs">ADMINISTRATION  FLOWCHART</text>
<text x="562" y="546" class="k" style="font-size:5px" textLength="163" lengthAdjust="spacingAndGlyphs">هێڵکاری ڕێنمایی کارگێڕی - بەڕێوەبەرایەتی گشتی گواستنەوەی کارەبا</text>
<circle cx="713" cy="517" r="23" fill="#fff" stroke="#9aa6b8" stroke-width="1.2"/>
<circle cx="713" cy="517" r="19" fill="none" stroke="#d0d6e0" stroke-width=".6"/>
<path d="M707,500 L701,514 L706,514 L699,530 L711,511 L706,511 L711,500 Z" fill="#1d4fb0"/>
<path d="M720,500 L714,514 L719,514 L712,530 L724,511 L719,511 L724,500 Z" fill="#2a66c8"/>
<path d="M696,528 Q713,542 730,528 L733,533 Q713,549 693,533 Z" fill="#2f7fd0" stroke="#1d4f8a" stroke-width=".5"/>
<text x="713" y="526" class="k" style="font-size:2.6px" textLength="12" lengthAdjust="spacingAndGlyphs">وزارة الكهرباء</text>
<text x="771" y="509.5" class="a" style="font-size:4.3px;font-weight:bold;text-anchor:middle" textLength="28" lengthAdjust="spacingAndGlyphs">Drawing Number:</text>
<text x="771" y="526" class="s" style="font-size:7px;text-anchor:middle;font-weight:normal">1</text>
</svg>
</body></html>
